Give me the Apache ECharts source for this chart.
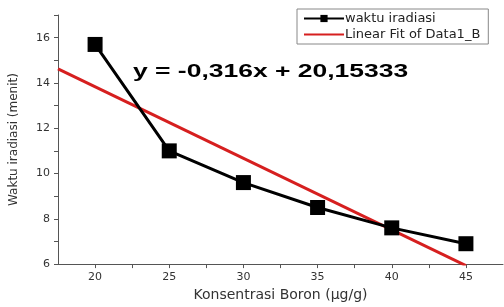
<!DOCTYPE html>
<html>
<head>
<meta charset="utf-8">
<script src="https://cdn.jsdelivr.net/npm/echarts@6/dist/echarts.min.js"></script>
<style>
  html, body { margin: 0; padding: 0; background: #fff; }
  #chart { width: 504px; height: 307px; }
</style>
</head>
<body>
<div id="chart"></div>
<script>
// data
var konsentrasi = [20, 25, 30, 35, 40, 45];
var waktu = [15.7, 11.0, 9.6, 8.5, 7.6, 6.9];
// linear fit y = -0.316x + 20.15333, drawn from axis start to the last point
var fitX = [17.5, 45];
var slope = -0.316;
var intercept = 20.15333;
var equationText = 'y = -0,316x + 20,15333';

var chart = echarts.init(document.getElementById('chart'));

var option = {
  animation: false,
  grid: { left: 58, top: 15, right: 1, bottom: 41 },
  legend: {
    orient: 'vertical',
    left: 297,
    top: 9,
    padding: [3, 8, 3, 6],
    itemGap: 3,
    itemWidth: 40,
    itemHeight: 9,
    borderColor: '#888',
    borderWidth: 1,
    borderRadius: 0,
    textStyle: { fontFamily: 'DejaVu Sans', fontSize: 13, color: '#222', padding: [0, 0, 0, -4] },
    data: [
      { name: 'waktu iradiasi' },
      { name: 'Linear Fit of Data1_B', itemStyle: { opacity: 0 } }
    ]
  },
  graphic: [{
    type: 'text',
    x: 133,
    y: 63,
    scaleX: 1.47,
    style: {
      text: equationText,
      font: 'bold 18px "Liberation Sans"',
      fill: '#000'
    }
  }],
  xAxis: {
    type: 'value',
    min: 17.5,
    max: 47.5,
    interval: 2.5,
    name: 'Konsentrasi Boron (µg/g)',
    nameLocation: 'middle',
    nameGap: 22,
    nameTextStyle: { fontFamily: 'DejaVu Sans', fontSize: 14, color: '#333' },
    axisLine: { lineStyle: { color: '#555', width: 1 } },
    axisTick: { length: 4, lineStyle: { color: '#555' } },
    axisLabel: {
      fontFamily: 'DejaVu Sans', fontSize: 11, color: '#333',
      formatter: function (v) { return (v % 5 === 0) ? v : ''; },
      showMinLabel: false, showMaxLabel: false
    },
    splitLine: { show: false }
  },
  yAxis: {
    type: 'value',
    min: 6,
    max: 17,
    interval: 1,
    name: 'Waktu iradiasi (menit)',
    nameLocation: 'middle',
    nameGap: 38,
    nameTextStyle: { fontFamily: 'DejaVu Sans', fontSize: 12, color: '#333' },
    axisLine: { show: true, lineStyle: { color: '#555', width: 1 } },
    axisTick: { show: true, length: 4, lineStyle: { color: '#555' } },
    axisLabel: {
      fontFamily: 'DejaVu Sans', fontSize: 11, color: '#333',
      formatter: function (v) { return (v % 2 === 0) ? v : ''; }
    },
    splitLine: { show: false }
  },
  series: [
    {
      name: 'Linear Fit of Data1_B',
      type: 'line',
      clip: true,
      symbol: 'none',
      color: '#d61f1f',
      lineStyle: { width: 3, color: '#d61f1f' },
      data: fitX.map(function (x) { return [x, slope * x + intercept]; }),
      z: 2
    },
    {
      name: 'waktu iradiasi',
      type: 'line',
      symbol: 'rect',
      symbolSize: 15,
      color: '#000',
      itemStyle: { color: '#000' },
      lineStyle: { width: 3, color: '#000' },
      data: konsentrasi.map(function (x, i) { return [x, waktu[i]]; }),
      z: 3
    }
  ]
};

chart.setOption(option);
</script>
</body>
</html>
